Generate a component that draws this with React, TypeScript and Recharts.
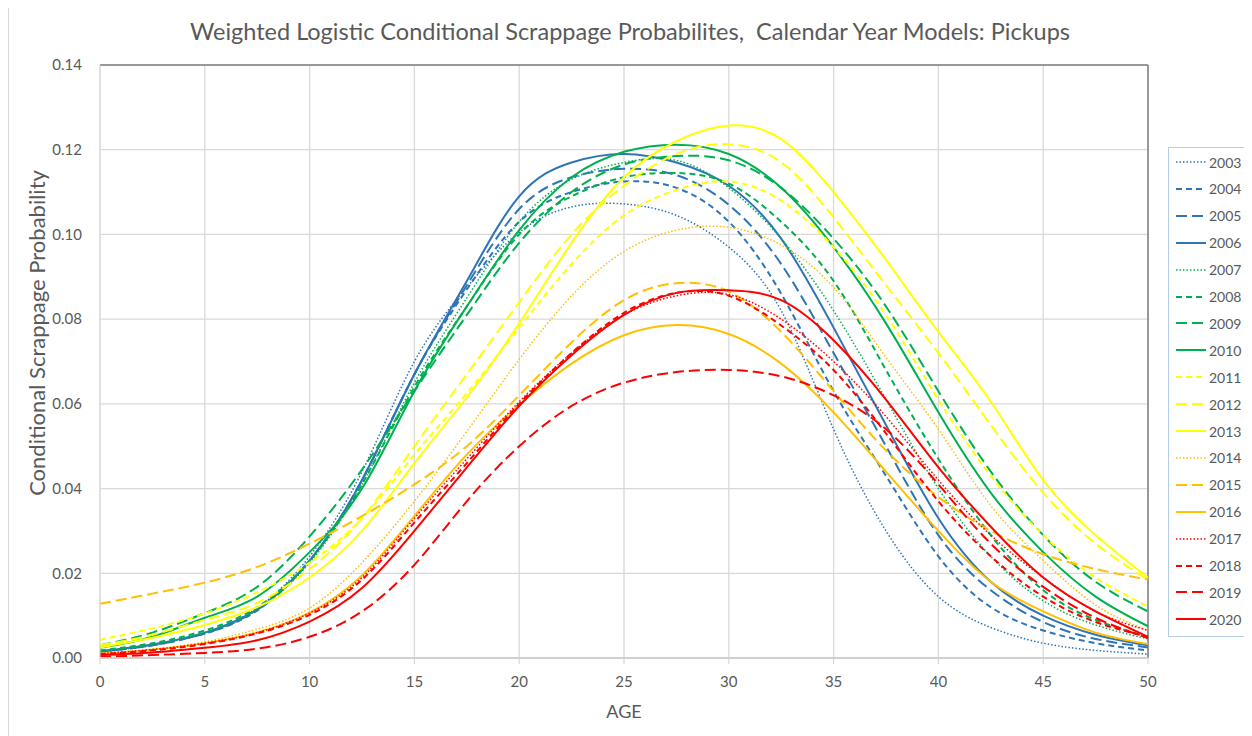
import React from 'react';
import { LineChart, Line, XAxis, YAxis, CartesianGrid, ReferenceLine } from 'recharts';

const ages = [0, 2.5, 5, 7.5, 10, 12.5, 15, 17.5, 20, 22.5, 25, 27.5, 30, 32.5, 35, 37.5, 40, 42.5, 45, 47.5, 50];

const y2003 = [0.0015, 0.003, 0.006, 0.0118, 0.024, 0.044, 0.070, 0.0875, 0.1005, 0.1065, 0.1072, 0.1045, 0.097, 0.082, 0.054, 0.030, 0.0145, 0.0072, 0.0035, 0.0018, 0.0009];
const y2004 = [0.0015, 0.003, 0.0058, 0.0112, 0.023, 0.042, 0.067, 0.087, 0.103, 0.110, 0.1125, 0.111, 0.103, 0.086, 0.063, 0.043, 0.024, 0.012, 0.0065, 0.0035, 0.0018];
const y2005 = [0.0015, 0.003, 0.0058, 0.0114, 0.023, 0.042, 0.067, 0.088, 0.106, 0.1135, 0.1155, 0.114, 0.107, 0.093, 0.072, 0.050, 0.029, 0.016, 0.0085, 0.0045, 0.0025];
const y2006 = [0.0016, 0.0032, 0.006, 0.0115, 0.023, 0.042, 0.067, 0.089, 0.109, 0.117, 0.119, 0.117, 0.1115, 0.099, 0.078, 0.055, 0.033, 0.018, 0.010, 0.0055, 0.003];
const y2007 = [0.0016, 0.0032, 0.006, 0.0113, 0.0225, 0.041, 0.065, 0.085, 0.103, 0.113, 0.117, 0.1175, 0.111, 0.099, 0.082, 0.061, 0.040, 0.024, 0.0135, 0.0078, 0.0045];
const y2008 = [0.0018, 0.0035, 0.0065, 0.012, 0.023, 0.041, 0.064, 0.083, 0.100, 0.109, 0.1135, 0.1145, 0.112, 0.103, 0.089, 0.068, 0.047, 0.029, 0.016, 0.009, 0.005];
const y2009 = [0.003, 0.006, 0.0106, 0.0168, 0.0287, 0.0445, 0.063, 0.081, 0.098, 0.110, 0.1165, 0.1185, 0.1175, 0.111, 0.099, 0.083, 0.063, 0.044, 0.029, 0.018, 0.011];
const y2010 = [0.0024, 0.005, 0.0095, 0.0145, 0.025, 0.040, 0.063, 0.083, 0.101, 0.1135, 0.1195, 0.1212, 0.119, 0.111, 0.097, 0.079, 0.058, 0.039, 0.025, 0.0145, 0.0075];
const y2011 = [0.0043, 0.007, 0.0105, 0.0155, 0.0225, 0.033, 0.048, 0.0625, 0.078, 0.093, 0.1045, 0.1105, 0.1125, 0.108, 0.097, 0.081, 0.061, 0.043, 0.029, 0.019, 0.0122];
const y2012 = [0.003, 0.0055, 0.009, 0.013, 0.021, 0.033, 0.050, 0.067, 0.084, 0.100, 0.1115, 0.119, 0.1213, 0.117, 0.104, 0.088, 0.072, 0.055, 0.039, 0.027, 0.0185];
const y2013 = [0.0025, 0.0048, 0.0078, 0.012, 0.019, 0.030, 0.046, 0.0615, 0.079, 0.098, 0.1135, 0.122, 0.1257, 0.1225, 0.110, 0.094, 0.077, 0.0605, 0.042, 0.029, 0.019];
const y2014 = [0.001, 0.002, 0.0038, 0.0068, 0.0118, 0.0225, 0.037, 0.0535, 0.0705, 0.0855, 0.096, 0.101, 0.1017, 0.0975, 0.0875, 0.071, 0.054, 0.036, 0.023, 0.0125, 0.0065];
const y2015 = [0.0128, 0.0152, 0.0178, 0.0215, 0.027, 0.0335, 0.041, 0.050, 0.062, 0.0745, 0.0845, 0.0885, 0.0865, 0.077, 0.063, 0.049, 0.038, 0.030, 0.0245, 0.021, 0.0185];
const y2016 = [0.001, 0.002, 0.0035, 0.006, 0.0107, 0.0195, 0.0335, 0.048, 0.0598, 0.0695, 0.0762, 0.0786, 0.0765, 0.0695, 0.058, 0.044, 0.030, 0.018, 0.011, 0.006, 0.0033];
const y2017 = [0.001, 0.002, 0.0035, 0.006, 0.0106, 0.019, 0.033, 0.047, 0.0605, 0.072, 0.081, 0.0855, 0.0858, 0.080, 0.070, 0.057, 0.042, 0.029, 0.019, 0.011, 0.0065];
const y2018 = [0.0009, 0.0018, 0.0033, 0.0058, 0.0102, 0.0185, 0.032, 0.046, 0.060, 0.072, 0.0815, 0.0862, 0.0855, 0.0785, 0.068, 0.053, 0.037, 0.024, 0.0145, 0.0085, 0.005];
const y2019 = [0.0003, 0.0007, 0.0012, 0.0022, 0.005, 0.011, 0.022, 0.037, 0.050, 0.0595, 0.065, 0.0675, 0.068, 0.0665, 0.062, 0.054, 0.041, 0.027, 0.0168, 0.0095, 0.0047];
const y2020 = [0.0007, 0.0013, 0.0024, 0.0042, 0.0086, 0.0165, 0.030, 0.045, 0.0595, 0.0715, 0.081, 0.0862, 0.0868, 0.0845, 0.075, 0.061, 0.045, 0.031, 0.019, 0.011, 0.005];

const xTicks = [0, 5, 10, 15, 20, 25, 30, 35, 40, 45, 50];
const yTicks = [0, 0.02, 0.04, 0.06, 0.08, 0.1, 0.12, 0.14];

const BLUE = '#2E75B6';
const GREEN = '#00B050';
const YELLOW = '#FFFF00';
const ORANGE = '#FFC000';
const RED = '#FF0000';

const DOT = '1.5 2';
const SHORT = '6 4';
const LONG = '11 5';

const series = [
  { key: '2003', values: y2003, color: BLUE, dash: DOT },
  { key: '2004', values: y2004, color: BLUE, dash: SHORT },
  { key: '2005', values: y2005, color: BLUE, dash: LONG },
  { key: '2006', values: y2006, color: BLUE, dash: undefined },
  { key: '2007', values: y2007, color: GREEN, dash: DOT },
  { key: '2008', values: y2008, color: GREEN, dash: SHORT },
  { key: '2009', values: y2009, color: GREEN, dash: LONG },
  { key: '2010', values: y2010, color: GREEN, dash: undefined },
  { key: '2011', values: y2011, color: YELLOW, dash: SHORT },
  { key: '2012', values: y2012, color: YELLOW, dash: LONG },
  { key: '2013', values: y2013, color: YELLOW, dash: undefined },
  { key: '2014', values: y2014, color: ORANGE, dash: DOT },
  { key: '2015', values: y2015, color: ORANGE, dash: LONG },
  { key: '2016', values: y2016, color: ORANGE, dash: undefined },
  { key: '2017', values: y2017, color: RED, dash: DOT },
  { key: '2018', values: y2018, color: RED, dash: SHORT },
  { key: '2019', values: y2019, color: RED, dash: LONG },
  { key: '2020', values: y2020, color: RED, dash: undefined },
];

const rows = ages.map((age, i) => {
  const row: Record<string, number> = { age };
  series.forEach(s => { row[s.key] = s.values[i]; });
  return row;
});

const FONT = 'Lato, "Liberation Sans", Arial, sans-serif';
const TEXT = '#595959';

export default function App() {
  return (
    <div style={{ position: 'relative', width: 1244, height: 728, fontFamily: FONT, background: '#fff' }}>
      <div style={{ position: 'absolute', left: 0, top: -3, width: 1260, height: 740, border: '1px solid #d9d9d9', boxSizing: 'border-box' }} />
      <div style={{ position: 'absolute', left: 0, top: 9, width: 1244, textAlign: 'center', fontSize: 23.5, color: TEXT }}>
        Weighted Logistic Conditional Scrappage Probabilites,&nbsp; Calendar Year Models: Pickups
      </div>
      <div style={{ position: 'absolute', left: 28, top: 325, width: 0, height: 0 }}>
        <div style={{ position: 'absolute', transform: 'translate(-50%, -50%) rotate(-90deg)', whiteSpace: 'nowrap', fontSize: 22, color: TEXT }}>
          Conditional Scrappage Probability
        </div>
      </div>
      <div style={{ position: 'absolute', left: 0, top: 692, width: 1232, textAlign: 'center', fontSize: 18, color: TEXT }}>AGE</div>

      <div style={{ position: 'absolute', left: 0, top: 0 }}>
        <LineChart width={1244} height={720} data={rows} margin={{ top: 57, right: 104, left: 32, bottom: 40 }}>
          <CartesianGrid stroke="#d9d9d9" strokeWidth={1.3} />
          <XAxis
            dataKey="age"
            type="number"
            domain={[0, 50]}
            ticks={xTicks}
            interval={0}
            height={30}
            axisLine={{ stroke: '#d0d0d0', strokeWidth: 2 }}
            tickLine={{ stroke: '#d0d0d0' }}
            tickSize={6}
            tickMargin={12}
            tick={{ fill: TEXT, fontSize: 15, fontFamily: FONT }}
          />
          <YAxis
            type="number"
            domain={[0, 0.14]}
            ticks={yTicks}
            interval={0}
            width={60}
            axisLine={{ stroke: '#d9d9d9' }}
            tickLine={false}
            tickMargin={12}
            tickFormatter={(v: number) => v.toFixed(2)}
            tick={{ fill: TEXT, fontSize: 15, fontFamily: FONT }}
          />
          <ReferenceLine y={0.14} stroke="#7f7f7f" strokeWidth={1.5} />
          <ReferenceLine x={50} stroke="#7f7f7f" strokeWidth={1.5} />
          {series.map(s => (
            <Line
              key={s.key}
              type="natural"
              dataKey={s.key}
              stroke={s.color}
              strokeWidth={s.dash === DOT ? 1.5 : 2}
              strokeDasharray={s.dash}
              dot={false}
              activeDot={false}
              isAnimationActive={false}
            />
          ))}
        </LineChart>
      </div>

      <div style={{ position: 'absolute', left: 1160, top: 139, width: 80, height: 490, border: '1px solid #b4cde6', boxSizing: 'border-box', background: '#fff' }}>
        {series.map((s, i) => (
          <div key={s.key} style={{ position: 'absolute', left: 6, top: 5 + i * 26.9, height: 18, display: 'flex', alignItems: 'center' }}>
            <svg width={32} height={6} style={{ display: 'block' }}>
              <line x1={1} y1={3} x2={31} y2={3} stroke={s.color} strokeWidth={s.dash === DOT ? 1.5 : 2} strokeDasharray={s.dash} />
            </svg>
            <span style={{ fontSize: 14, color: TEXT, marginLeft: 2 }}>{s.key}</span>
          </div>
        ))}
      </div>
    </div>
  );
}
